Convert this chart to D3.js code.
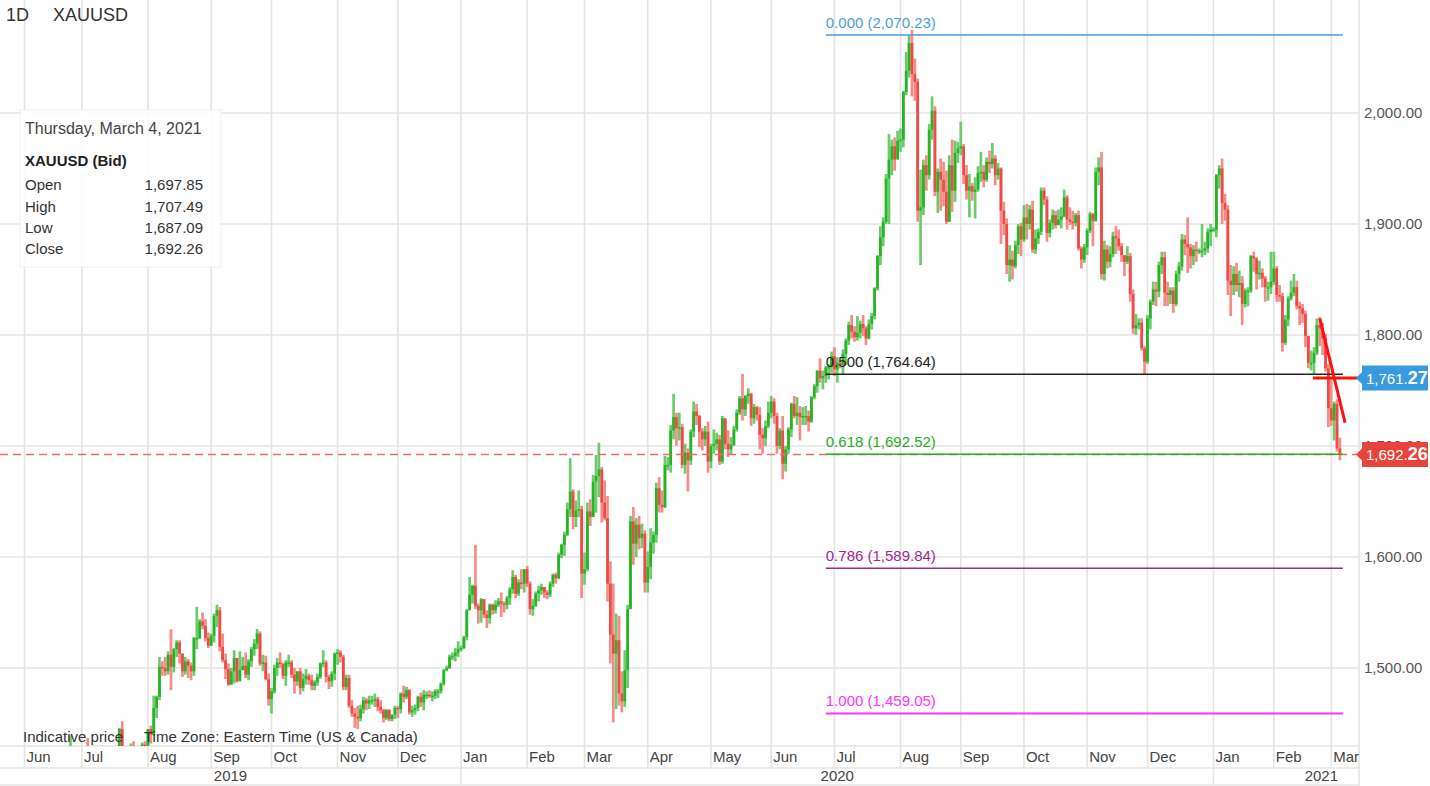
<!DOCTYPE html>
<html><head><meta charset="utf-8">
<script src="https://cdn.jsdelivr.net/npm/d3@7"></script>
<style>body{margin:0;background:#fff;}svg{display:block;font-family:Arial,"Liberation Sans",sans-serif;}</style>
</head><body><svg id="c" width="1430" height="786"></svg>
<script>
// ---- DATA: daily [high, low, close] per month (open = previous close) ----
const may19=[[1286,1273,1283],[1287,1280,1284],[1287,1282,1285],[1286,1276,1278],[1284,1274,1280],[1290,1279,1288],[1306,1286,1305]];
const jun19=[[1328,1305,1327],[1333,1320,1323],[1340,1322,1333],[1346,1329,1337],[1348,1331,1341],[1340,1323,1327],[1334,1322,1327],[1337,1325,1334],[1345,1330,1342],[1358,1340,1341],[1346,1336,1339],[1354,1338,1345],[1362,1340,1361],[1393,1358,1388],[1411,1382,1399],[1419,1398,1418],[1439,1402,1423],[1427,1401,1408],[1414,1401,1409],[1418,1404,1409]];
const jul19=[[1412,1382,1384],[1420,1381,1418],[1437,1411,1417],[1424,1413,1420],[1424,1386,1399],[1403,1388,1396],[1404,1386,1397],[1420,1393,1419],[1426,1401,1404],[1418,1402,1415],[1419,1407,1413],[1417,1400,1405],[1428,1403,1426],[1446,1419,1445],[1452,1420,1426],[1428,1419,1425],[1428,1412,1418],[1432,1413,1426],[1434,1411,1414],[1424,1413,1419],[1428,1414,1426],[1433,1424,1431],[1434,1400,1413]];
const aug19=[[1445,1400,1445],[1448,1432,1440],[1475,1439,1464],[1475,1455,1474],[1510,1471,1501],[1506,1493,1500],[1510,1493,1497],[1515,1494,1512],[1535,1480,1501],[1518,1496,1517],[1525,1510,1523],[1525,1504,1513],[1513,1492,1497],[1510,1494,1506],[1508,1491,1502],[1505,1489,1497],[1528,1493,1527],[1555,1517,1527],[1544,1526,1542],[1550,1535,1538],[1544,1524,1527],[1532,1518,1520]];
const sep19=[[1531,1520,1529],[1549,1523,1547],[1557,1537,1552],[1555,1515,1519],[1531,1505,1507],[1513,1490,1499],[1504,1484,1485],[1500,1485,1497],[1516,1486,1509],[1509,1487,1488],[1515,1492,1498],[1510,1498,1502],[1514,1491,1494],[1508,1489,1506],[1519,1501,1517],[1526,1511,1522],[1535,1517,1531],[1533,1502,1504],[1512,1497,1505],[1511,1489,1490],[1495,1466,1472]];
const oct19=[[1482,1459,1479],[1503,1477,1500],[1509,1493,1505],[1514,1500,1504],[1504,1490,1493],[1507,1484,1505],[1512,1501,1505],[1507,1491,1494],[1500,1477,1488],[1497,1484,1497],[1500,1476,1482],[1495,1479,1490],[1499,1485,1493],[1495,1485,1489],[1494,1480,1484],[1489,1480,1487],[1495,1484,1492],[1505,1490,1504],[1516,1501,1505],[1507,1487,1492],[1494,1481,1488],[1497,1483,1495],[1514,1489,1513]];
const nov19=[[1517,1503,1514],[1516,1505,1510],[1512,1480,1483],[1494,1480,1491],[1494,1464,1466],[1471,1456,1459],[1464,1446,1456],[1466,1445,1455],[1467,1452,1463],[1474,1459,1471],[1473,1462,1468],[1475,1463,1471],[1475,1467,1471],[1477,1465,1472],[1474,1461,1465],[1471,1459,1462],[1463,1451,1455],[1463,1453,1462],[1463,1452,1454],[1458,1452,1458],[1466,1454,1464]];
const dec19=[[1466,1455,1463],[1478,1459,1477],[1484,1469,1474],[1483,1472,1480],[1481,1458,1460],[1466,1456,1462],[1467,1458,1464],[1475,1461,1474],[1478,1465,1469],[1480,1462,1476],[1479,1472,1476],[1480,1473,1475],[1479,1470,1475],[1481,1472,1479],[1481,1473,1479],[1487,1477,1486],[1499,1484,1498],[1502,1497,1500],[1512,1499,1510],[1514,1507,1511],[1518,1506,1514],[1524,1510,1517]];
const jan20=[[1520,1515,1518],[1529,1517,1528],[1553,1525,1552],[1582,1552,1566],[1575,1558,1574],[1611,1553,1556],[1558,1540,1552],[1563,1541,1562],[1562,1545,1548],[1552,1536,1545],[1558,1540,1557],[1558,1548,1552],[1561,1549,1557],[1563,1555,1560],[1568,1546,1558],[1560,1550,1557],[1565,1553,1563],[1573,1557,1571],[1588,1567,1582],[1584,1563,1567],[1580,1565,1577],[1589,1571,1576],[1589,1568,1589]];
const feb20=[[1592,1573,1576],[1578,1548,1553],[1562,1547,1556],[1569,1555,1567],[1574,1560,1570],[1576,1566,1573],[1573,1563,1568],[1570,1562,1566],[1578,1564,1576],[1585,1573,1584],[1586,1576,1581],[1604,1580,1602],[1612,1599,1611],[1623,1601,1620],[1649,1619,1643],[1689,1636,1659],[1661,1625,1636],[1651,1627,1642],[1660,1636,1643],[1646,1563,1585]];
const mar20=[[1604,1575,1589],[1649,1587,1641],[1652,1628,1636],[1674,1636,1668],[1692,1640,1673],[1703,1654,1679],[1681,1631,1649],[1669,1633,1635],[1655,1560,1576],[1596,1504,1530],[1576,1451,1513],[1549,1463,1525],[1547,1466,1477],[1497,1460,1470],[1516,1465,1498],[1557,1482,1553],[1637,1555,1632],[1645,1593,1612],[1635,1600,1629],[1637,1607,1617],[1630,1608,1621],[1624,1568,1577]];
const apr20=[[1605,1568,1591],[1626,1580,1613],[1623,1603,1620],[1667,1613,1662],[1672,1640,1647],[1660,1640,1645],[1691,1644,1683],[1690,1678,1683],[1719,1676,1714],[1747,1706,1726],[1730,1700,1716],[1730,1705,1717],[1720,1680,1683],[1702,1675,1694],[1698,1659,1687],[1715,1683,1713],[1740,1708,1731],[1738,1719,1727],[1728,1699,1713],[1716,1696,1706],[1718,1700,1713],[1722,1676,1686]];
const may20=[[1702,1680,1700],[1715,1693,1702],[1712,1696,1706],[1710,1683,1686],[1727,1684,1725],[1723,1697,1702],[1714,1690,1697],[1708,1692,1701],[1718,1700,1715],[1733,1713,1730],[1745,1728,1743],[1765,1723,1733],[1746,1727,1745],[1752,1738,1747],[1748,1718,1725],[1738,1720,1735],[1736,1723,1728],[1735,1697,1710],[1716,1693,1707],[1723,1700,1718],[1740,1716,1730]];
const jun20=[[1745,1725,1740],[1743,1720,1727],[1730,1693,1700],[1716,1697,1714],[1727,1670,1684],[1700,1677,1697],[1717,1693,1715],[1739,1708,1738],[1745,1725,1727],[1744,1719,1730],[1736,1705,1726],[1735,1719,1727],[1736,1719,1727],[1732,1713,1722],[1745,1721,1744],[1756,1742,1754],[1768,1748,1768],[1779,1757,1761],[1768,1751,1763],[1772,1757,1771],[1774,1760,1771],[1785,1766,1781]];
const jul20=[[1789,1763,1769],[1780,1757,1775],[1777,1770,1773],[1787,1764,1783],[1797,1773,1795],[1812,1791,1809],[1818,1797,1803],[1808,1794,1798],[1817,1795,1802],[1813,1797,1810],[1818,1799,1806],[1808,1791,1797],[1814,1796,1810],[1820,1805,1817],[1843,1814,1842],[1872,1840,1871],[1898,1863,1888],[1906,1880,1902],[1945,1900,1941],[1981,1900,1958],[1976,1944,1970],[1978,1948,1958],[1984,1960,1975]];
const aug20=[[1986,1965,1976],[2020,1969,2019],[2055,2016,2038],[2070,2032,2063],[2075,2015,2035],[2049,2011,2028],[2031,1902,1912],[1949,1863,1915],[1958,1908,1953],[1962,1930,1944],[1990,1940,1985],[2015,1976,2002],[2006,1925,1929],[1950,1910,1947],[1959,1912,1940],[1956,1916,1929],[1948,1900,1902],[1962,1902,1953],[1976,1911,1930],[1975,1920,1964],[1974,1955,1968]];
const sep20=[[1992,1962,1970],[1972,1936,1944],[1953,1922,1930],[1945,1906,1934],[1937,1921,1929],[1942,1905,1931],[1952,1929,1946],[1965,1938,1947],[1953,1933,1940],[1960,1938,1956],[1966,1946,1954],[1973,1950,1959],[1962,1935,1944],[1955,1940,1950],[1951,1882,1912],[1920,1890,1900],[1905,1855,1863],[1881,1848,1868],[1876,1850,1862],[1885,1860,1881],[1900,1873,1898],[1901,1871,1886]];
const oct20=[[1917,1884,1906],[1918,1886,1900],[1917,1895,1913],[1921,1874,1877],[1895,1873,1887],[1896,1882,1893],[1933,1890,1930],[1933,1917,1922],[1925,1884,1892],[1904,1888,1901],[1913,1895,1908],[1912,1896,1899],[1913,1899,1904],[1915,1896,1907],[1931,1906,1924],[1926,1895,1904],[1915,1899,1902],[1912,1895,1901],[1910,1898,1908],[1912,1876,1878],[1880,1860,1868],[1882,1865,1879]];
const nov20=[[1896,1872,1894],[1911,1892,1909],[1910,1880,1903],[1951,1902,1947],[1960,1935,1951],[1965,1850,1855],[1885,1849,1877],[1881,1860,1866],[1880,1861,1873],[1893,1870,1889],[1898,1873,1887],[1895,1876,1880],[1883,1866,1872],[1872,1853,1866],[1880,1864,1871],[1874,1830,1837],[1841,1801,1806],[1819,1800,1809],[1815,1805,1811],[1815,1786,1788],[1790,1764,1776]];
const dec20=[[1818,1774,1815],[1832,1805,1830],[1848,1827,1841],[1848,1826,1839],[1866,1834,1863],[1875,1855,1870],[1875,1826,1838],[1848,1826,1836],[1843,1828,1840],[1843,1820,1828],[1858,1826,1855],[1866,1848,1862],[1891,1858,1886],[1890,1872,1882],[1906,1856,1879],[1882,1860,1871],[1881,1863,1877],[1884,1866,1876],[1878,1873,1876],[1900,1870,1876],[1884,1872,1878],[1896,1874,1893],[1900,1880,1895]];
const jan21=[[1897,1893,1895],[1945,1888,1944],[1953,1932,1950],[1959,1900,1919],[1927,1903,1913],[1917,1836,1849],[1863,1817,1845],[1862,1836,1855],[1865,1839,1845],[1858,1834,1847],[1853,1809,1828],[1842,1825,1840],[1843,1826,1840],[1872,1838,1871],[1875,1857,1869],[1870,1841,1855],[1867,1850,1856],[1860,1843,1851],[1853,1830,1843],[1848,1831,1843],[1875,1837,1848]];
const feb21=[[1875,1845,1860],[1862,1830,1836],[1845,1830,1835],[1838,1785,1793],[1818,1791,1814],[1835,1808,1833],[1849,1831,1838],[1855,1835,1843],[1849,1823,1826],[1830,1809,1824],[1828,1811,1819],[1822,1789,1799],[1799,1770,1775],[1786,1768,1775],[1789,1764,1784],[1815,1782,1809],[1816,1790,1806],[1811,1782,1797],[1801,1767,1770],[1774,1717,1734]];
const mar21=[[1760,1718,1723],[1740,1705,1738],[1742,1695,1697.85],[1707.49,1687.09,1692.26]];

const monthKeys=["2019-05","2019-06","2019-07","2019-08","2019-09","2019-10","2019-11","2019-12","2020-01","2020-02","2020-03","2020-04","2020-05","2020-06","2020-07","2020-08","2020-09","2020-10","2020-11","2020-12","2021-01","2021-02","2021-03"];
const monthArrays=[may19,jun19,jul19,aug19,sep19,oct19,nov19,dec19,jan20,feb20,mar20,apr20,may20,jun20,jul20,aug20,sep20,oct20,nov20,dec20,jan21,feb21,mar21];
const monthNames=["Jan","Feb","Mar","Apr","May","Jun","Jul","Aug","Sep","Oct","Nov","Dec"];
const priceTicks=[1500,1600,1700,1800,1900,2000];
const fibRatios=[0,0.5,0.618,0.786,1];
const fibHigh=2070.23, fibLow=1459.05;
const fibColors=["#4a9fdf","#222222","#22b022","#9a2a9a","#ff33ff"];
const fibStartDate="2020-06-26";
const lastPrice=1692.26, markPrice=1761.27;
const trendLine=[[458,1815],[466.8,1721]];
const markLine=[[455.6,1761.27],[471.3,1761.27]];
const tooltip={date:"Thursday, March 4, 2021",title:"XAUUSD (Bid)",rows:[["Open","1,697.85"],["High","1,707.49"],["Low","1,687.09"],["Close","1,692.26"]]};

// ---- build bars ----
function weekdaysOf(key){const [y,m]=key.split("-").map(Number);const out=[];
  for(let d=new Date(Date.UTC(y,m-1,1));d.getUTCMonth()===m-1;d.setUTCDate(d.getUTCDate()+1)){const w=d.getUTCDay();if(w>0&&w<6)out.push(new Date(d));}return out;}
const bars=[];
monthArrays.forEach((arr,mi)=>{const days=weekdaysOf(monthKeys[mi]);const ds=mi===0?days.slice(days.length-arr.length):days.slice(0,arr.length);
  arr.forEach((v,k)=>{const prev=bars.length?bars[bars.length-1].c:v[2];bars.push({date:ds[k],o:prev,h:v[0],l:v[1],c:v[2],m:mi});});});
bars.forEach((b,i)=>b.i=i);
const N=bars.length;

// ---- layout ----
const W=1430,H=786,plotR=1359,plotB=746,axisB=768,yearB=785;
const step=2.872, x0=4.4;
const x=d3.scaleLinear().domain([0,N-1]).range([x0,x0+(N-1)*step]);
const y=d3.scaleLinear().domain([1500,2000]).range([668,113]);
const svg=d3.select("#c");
svg.append("rect").attr("width",W).attr("height",H).attr("fill","#fff");
svg.append("defs").append("clipPath").attr("id","clip").append("rect").attr("x",0).attr("y",0).attr("width",plotR).attr("height",plotB);

const monthStarts=[];
bars.forEach((b,i)=>{if(i>0&&b.m!==bars[i-1].m)monthStarts.push(b);});
const grid=svg.append("g");
grid.selectAll("line.v").data(monthStarts).join("line").attr("x1",d=>x(d.i)).attr("x2",d=>x(d.i)).attr("y1",0).attr("y2",axisB).attr("stroke","#e4e4e4").attr("stroke-width",1.6);
grid.selectAll("line.h").data(priceTicks).join("line").attr("class","h").attr("x1",0).attr("x2",plotR).attr("y1",d=>y(d)).attr("y2",d=>y(d)).attr("stroke","#e4e4e4").attr("stroke-width",1.6);
[plotB,axisB,yearB].forEach(v=>grid.append("line").attr("x1",0).attr("x2",plotR).attr("y1",v).attr("y2",v).attr("stroke","#e4e4e4").attr("stroke-width",1.6));
grid.append("line").attr("x1",plotR).attr("x2",plotR).attr("y1",0).attr("y2",H).attr("stroke","#e4e4e4").attr("stroke-width",1.6);
const janStarts=monthStarts.filter(d=>d.date.getUTCMonth()===0);
grid.selectAll("line.yr").data(janStarts).join("line").attr("x1",d=>x(d.i)).attr("x2",d=>x(d.i)).attr("y1",axisB).attr("y2",yearB).attr("stroke","#e4e4e4").attr("stroke-width",1.6);

// candles
const cg=svg.append("g").attr("clip-path","url(#clip)");
const bw=2.7;
cg.selectAll("rect.w").data(bars).join("rect").attr("x",d=>x(d.i)-bw/2).attr("width",bw)
  .attr("y",d=>y(d.h)).attr("height",d=>Math.max(1,y(d.l)-y(d.h))).attr("fill",d=>d.c>=d.o?"#6ccc6c":"#f48c87");
cg.selectAll("rect.b").data(bars).join("rect").attr("x",d=>x(d.i)-bw/2).attr("width",bw)
  .attr("y",d=>y(Math.max(d.o,d.c))).attr("height",d=>Math.max(1.5,Math.abs(y(d.o)-y(d.c)))).attr("fill",d=>d.c>=d.o?"#25b525":"#f04a44");

// last price dashed
svg.append("line").attr("x1",0).attr("x2",plotR).attr("y1",y(lastPrice)).attr("y2",y(lastPrice)).attr("stroke","#f06a64").attr("stroke-width",1.5).attr("stroke-dasharray","8,5");

// fib
const fs=bars.findIndex(b=>b.date.toISOString().slice(0,10)>=fibStartDate);
const fx1=x(fs), fx2=x(N-1)+3;
const fg=svg.append("g");
fibRatios.forEach((r,k)=>{const p=fibHigh-r*(fibHigh-fibLow);const yy=y(p);
  fg.append("line").attr("x1",fx1).attr("x2",fx2).attr("y1",yy).attr("y2",yy).attr("stroke",fibColors[k]).attr("stroke-width",k===4?2:1.6);
  fg.append("text").attr("x",fx1).attr("y",yy-7).attr("font-size",15).attr("fill",fibColors[k]).text(r.toFixed(3)+" ("+d3.format(",.2f")(p)+")");});

// red annotations
const ln=d3.line().x(d=>x(d[0])).y(d=>y(d[1]));
svg.append("path").attr("d",ln(trendLine)).attr("stroke","#ff1010").attr("stroke-width",3).attr("fill","none");
svg.append("path").attr("d",ln(markLine)).attr("stroke","#ff1010").attr("stroke-width",3).attr("fill","none");

// price axis labels
svg.selectAll("text.pt").data(priceTicks).join("text").attr("x",1364).attr("y",d=>y(d)).attr("dy","0.35em").attr("font-size",15).attr("fill","#555").text(d=>d3.format(",.2f")(d));

// value boxes
function box(p,col){const yc=y(p);const g=svg.append("g");
  g.append("path").attr("d",`M1356,${yc}L1362,${yc-6}L1362,${yc-12.5}L1428,${yc-12.5}L1428,${yc+12.5}L1362,${yc+12.5}L1362,${yc+6}Z`).attr("fill",col);
  const s=d3.format(",.2f")(p);const t=g.append("text").attr("x",1366).attr("y",yc).attr("dy","0.36em").attr("fill","#fff");
  t.append("tspan").attr("font-size",15).text(s.slice(0,-2));t.append("tspan").attr("font-size",18).attr("font-weight","bold").text(s.slice(-2));}
box(markPrice,"#3a9ae0");
box(lastPrice,"#e9443b");

// month labels
svg.selectAll("text.m").data(monthStarts).join("text").attr("x",d=>x(d.i)+2).attr("y",757).attr("dy","0.35em").attr("font-size",15).attr("fill","#444").text(d=>monthNames[d.date.getUTCMonth()]);
const yrs=[{t:"2019",x:x(janStarts[0].i)/2,a:"middle"},{t:"2020",x:(x(janStarts[0].i)+x(janStarts[1].i))/2,a:"middle"},{t:"2021",x:plotR-21,a:"end"}];
svg.selectAll("text.yr").data(yrs).join("text").attr("x",d=>d.x).attr("y",776).attr("dy","0.35em").attr("text-anchor",d=>d.a).attr("font-size",15).attr("fill","#444").text(d=>d.t);

// footer text
svg.append("text").attr("x",23).attr("y",737).attr("dy","0.35em").attr("font-size",15).attr("fill","#333").text("Indicative price");
svg.append("text").attr("x",144).attr("y",737).attr("dy","0.35em").attr("font-size",15).attr("fill","#333").text("Time Zone: Eastern Time (US & Canada)");

// header
svg.append("text").attr("x",6).attr("y",15).attr("dy","0.35em").attr("font-size",18).attr("fill","#333").text("1D");
svg.append("text").attr("x",53).attr("y",15).attr("dy","0.35em").attr("font-size",18).attr("fill","#333").text("XAUUSD");

// tooltip
const tg=svg.append("g");
tg.append("rect").attr("x",20).attr("y",110).attr("width",201).attr("height",157).attr("fill","#fff").attr("fill-opacity",0.88).attr("stroke","#f0f0f0");
tg.append("text").attr("x",25).attr("y",128).attr("dy","0.35em").attr("font-size",16).attr("fill","#444").text(tooltip.date);
tg.append("text").attr("x",25).attr("y",161).attr("dy","0.35em").attr("font-size",15).attr("font-weight","bold").attr("fill","#222").text(tooltip.title);
tooltip.rows.forEach((r,k)=>{const yy=185+k*21.3;
  tg.append("text").attr("x",25).attr("y",yy).attr("dy","0.35em").attr("font-size",15).attr("fill","#333").text(r[0]);
  tg.append("text").attr("x",203).attr("y",yy).attr("dy","0.35em").attr("text-anchor","end").attr("font-size",15).attr("fill","#333").text(r[1]);});
</script></body></html>
